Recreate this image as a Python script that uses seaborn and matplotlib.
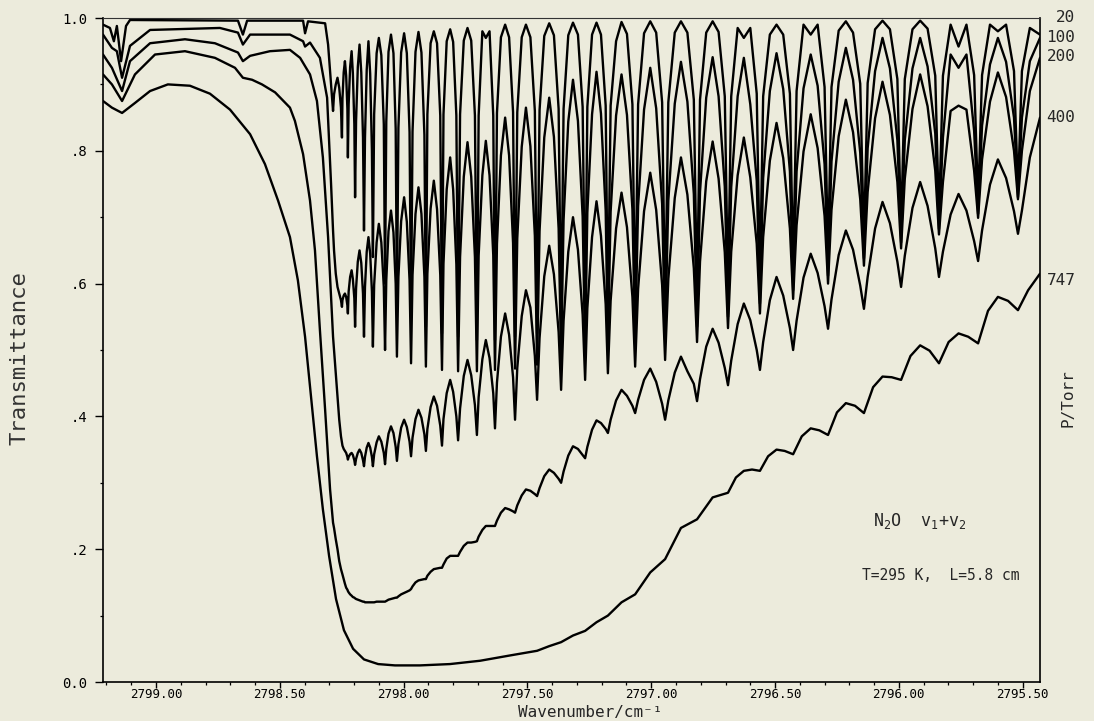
import pandas as pd
import matplotlib
matplotlib.use("Agg")
import matplotlib.pyplot as plt
import matplotlib.transforms as mtransforms
from matplotlib.ticker import MultipleLocator
import seaborn as sns

sns.set_theme(style="ticks", context="paper")
plt.rcParams["font.family"] = ["DejaVu Sans Mono", "DejaVu Sans"]
plt.rcParams["mathtext.default"] = "regular"

# -----------------------------
# Data
# -----------------------------
pressures = [20, 100, 200, 400, 747]

# smooth part left of the Q-branch head (wavenumber, transmittance)
lead_20 = [(2799.214, 0.99), (2799.186, 0.985), (2799.170, 0.965), (2799.158, 0.988),
           (2799.141, 0.935), (2799.121, 0.988), (2799.105, 0.997), (2798.669, 0.996),
           (2798.649, 0.975), (2798.632, 0.996), (2798.406, 0.996), (2798.398, 0.977),
           (2798.386, 0.995), (2798.317, 0.992), (2798.305, 0.96)]
lead_100 = [(2799.214, 0.975), (2799.178, 0.955), (2799.158, 0.95), (2799.137, 0.91),
            (2799.105, 0.958), (2799.024, 0.982), (2798.742, 0.985), (2798.669, 0.978),
            (2798.649, 0.96), (2798.620, 0.975), (2798.540, 0.975), (2798.459, 0.975),
            (2798.406, 0.965), (2798.398, 0.957), (2798.378, 0.963), (2798.338, 0.94),
            (2798.309, 0.88), (2798.293, 0.75)]
lead_200 = [(2799.214, 0.945), (2799.178, 0.925), (2799.137, 0.89), (2799.105, 0.935),
            (2799.024, 0.962), (2798.883, 0.968), (2798.762, 0.962), (2798.669, 0.948),
            (2798.649, 0.935), (2798.620, 0.943), (2798.540, 0.95), (2798.459, 0.952),
            (2798.418, 0.94), (2798.378, 0.915), (2798.350, 0.875), (2798.326, 0.79),
            (2798.305, 0.67)]
lead_400 = [(2799.214, 0.915), (2799.178, 0.9), (2799.137, 0.875), (2799.085, 0.915),
            (2799.004, 0.945), (2798.883, 0.95), (2798.762, 0.94), (2798.681, 0.925),
            (2798.649, 0.91), (2798.612, 0.907), (2798.572, 0.9), (2798.519, 0.888),
            (2798.459, 0.865), (2798.439, 0.845), (2798.406, 0.795), (2798.378, 0.725),
            (2798.358, 0.65), (2798.338, 0.53), (2798.317, 0.41), (2798.297, 0.29)]

# Q-branch lines, cm-1: line centre, then 10/30/50/70/90 % of the way to the next line
osc_wn = [
    (2798.285, 2798.281, 2798.274, 2798.267, 2798.260, 2798.253),
    (2798.249, 2798.247, 2798.242, 2798.237, 2798.232, 2798.227),
    (2798.225, 2798.222, 2798.216, 2798.210, 2798.205, 2798.199),
    (2798.196, 2798.192, 2798.185, 2798.178, 2798.171, 2798.164),
    (2798.160, 2798.156, 2798.149, 2798.142, 2798.135, 2798.128),
    (2798.124, 2798.119, 2798.109, 2798.100, 2798.090, 2798.080),
    (2798.075, 2798.070, 2798.061, 2798.051, 2798.041, 2798.032),
    (2798.027, 2798.021, 2798.010, 2797.998, 2797.987, 2797.976),
    (2797.970, 2797.964, 2797.952, 2797.940, 2797.928, 2797.916),
    (2797.910, 2797.904, 2797.891, 2797.878, 2797.865, 2797.852),
    (2797.845, 2797.839, 2797.826, 2797.812, 2797.800, 2797.787),
    (2797.780, 2797.772, 2797.757, 2797.742, 2797.727, 2797.712),
    (2797.704, 2797.697, 2797.682, 2797.668, 2797.653, 2797.638),
    (2797.631, 2797.623, 2797.607, 2797.590, 2797.574, 2797.558),
    (2797.550, 2797.541, 2797.523, 2797.506, 2797.488, 2797.470),
    (2797.461, 2797.451, 2797.432, 2797.412, 2797.393, 2797.374),
    (2797.364, 2797.354, 2797.335, 2797.316, 2797.296, 2797.277),
    (2797.267, 2797.258, 2797.239, 2797.221, 2797.203, 2797.184),
    (2797.175, 2797.164, 2797.142, 2797.120, 2797.098, 2797.076),
    (2797.065, 2797.053, 2797.029, 2797.004, 2796.980, 2796.956),
    (2796.944, 2796.931, 2796.905, 2796.880, 2796.854, 2796.828),
    (2796.815, 2796.803, 2796.778, 2796.752, 2796.728, 2796.703),
    (2796.690, 2796.677, 2796.651, 2796.626, 2796.600, 2796.574),
    (2796.561, 2796.548, 2796.521, 2796.494, 2796.467, 2796.440),
    (2796.427, 2796.413, 2796.385, 2796.356, 2796.328, 2796.300),
    (2796.286, 2796.272, 2796.243, 2796.214, 2796.185, 2796.156),
    (2796.141, 2796.126, 2796.096, 2796.066, 2796.036, 2796.006),
    (2795.991, 2795.976, 2795.945, 2795.914, 2795.884, 2795.853),
    (2795.838, 2795.822, 2795.791, 2795.759, 2795.727, 2795.696),
    (2795.680, 2795.664, 2795.632, 2795.600, 2795.567, 2795.535),
]
osc_wn_end = [2795.519, 2795.503, 2795.471, 2795.430]

# transmittance at those positions: trough, rising side, rising side, peak, falling, falling
osc_20 = [
    (0.86, 0.885, 0.90, 0.91, 0.895, 0.865), (0.82, 0.878, 0.918, 0.935, 0.913, 0.863),
    (0.79, 0.87, 0.926, 0.95, 0.917, 0.84), (0.73, 0.845, 0.926, 0.96, 0.918, 0.82),
    (0.68, 0.82, 0.922, 0.965, 0.916, 0.80), (0.64, 0.855, 0.947, 0.97, 0.944, 0.84),
    (0.60, 0.844, 0.949, 0.975, 0.947, 0.833), (0.57, 0.835, 0.948, 0.977, 0.947, 0.828),
    (0.55, 0.829, 0.949, 0.979, 0.948, 0.824), (0.535, 0.855, 0.962, 0.98, 0.962, 0.853),
    (0.525, 0.855, 0.965, 0.983, 0.964, 0.853), (0.52, 0.855, 0.966, 0.985, 0.966, 0.853),
    (0.515, 0.853, 0.98, 0.97, 0.98, 0.853), (0.515, 0.857, 0.971, 0.99, 0.971, 0.858),
    (0.52, 0.858, 0.971, 0.99, 0.971, 0.86), (0.525, 0.861, 0.973, 0.992, 0.974, 0.863),
    (0.53, 0.863, 0.974, 0.993, 0.975, 0.866), (0.54, 0.866, 0.975, 0.993, 0.975, 0.868),
    (0.545, 0.868, 0.965, 0.994, 0.976, 0.87), (0.55, 0.87, 0.977, 0.995, 0.978, 0.873),
    (0.56, 0.873, 0.978, 0.995, 0.978, 0.877), (0.575, 0.877, 0.978, 0.995, 0.979, 0.882),
    (0.59, 0.882, 0.985, 0.97, 0.985, 0.886), (0.605, 0.882, 0.975, 0.99, 0.975, 0.886),
    (0.62, 0.89, 0.99, 0.975, 0.99, 0.896), (0.64, 0.896, 0.981, 0.995, 0.978, 0.901),
    (0.66, 0.902, 0.983, 0.996, 0.983, 0.908), (0.68, 0.908, 0.983, 0.996, 0.984, 0.913),
    (0.70, 0.913, 0.99, 0.957, 0.99, 0.914), (0.72, 0.914, 0.99, 0.98, 0.99, 0.92),
]
osc_20_end = [0.74, 0.92, 0.985, 0.975]

osc_100 = [
    (0.68, 0.65, 0.615, 0.595, 0.585, 0.575), (0.565, 0.575, 0.582, 0.585, 0.58, 0.567),
    (0.555, 0.588, 0.61, 0.62, 0.607, 0.578), (0.535, 0.593, 0.633, 0.65, 0.631, 0.585),
    (0.52, 0.595, 0.648, 0.67, 0.645, 0.588), (0.505, 0.598, 0.662, 0.69, 0.662, 0.595),
    (0.50, 0.605, 0.679, 0.71, 0.677, 0.60), (0.49, 0.61, 0.694, 0.73, 0.693, 0.605),
    (0.48, 0.613, 0.705, 0.745, 0.705, 0.61), (0.475, 0.615, 0.713, 0.755, 0.712, 0.613),
    (0.47, 0.63, 0.742, 0.79, 0.742, 0.629), (0.468, 0.64, 0.761, 0.813, 0.761, 0.64),
    (0.468, 0.642, 0.763, 0.815, 0.763, 0.643), (0.47, 0.66, 0.793, 0.85, 0.793, 0.661),
    (0.472, 0.668, 0.806, 0.865, 0.807, 0.672), (0.478, 0.679, 0.82, 0.88, 0.821, 0.683),
    (0.485, 0.696, 0.844, 0.907, 0.845, 0.701), (0.495, 0.707, 0.855, 0.919, 0.856, 0.71),
    (0.50, 0.708, 0.853, 0.915, 0.854, 0.712), (0.508, 0.717, 0.862, 0.925, 0.864, 0.72),
    (0.515, 0.725, 0.871, 0.934, 0.874, 0.735), (0.535, 0.738, 0.88, 0.941, 0.882, 0.746),
    (0.55, 0.745, 0.882, 0.94, 0.87, 0.755), (0.57, 0.759, 0.89, 0.947, 0.893, 0.769),
    (0.59, 0.769, 0.894, 0.945, 0.898, 0.78), (0.612, 0.784, 0.904, 0.955, 0.907, 0.797),
    (0.638, 0.804, 0.92, 0.97, 0.924, 0.816), (0.662, 0.816, 0.924, 0.97, 0.927, 0.826),
    (0.682, 0.82, 0.945, 0.925, 0.945, 0.83), (0.705, 0.838, 0.93, 0.97, 0.934, 0.85),
]
osc_100_end = [0.73, 0.85, 0.935, 0.97]

osc_200 = [
    (0.52, 0.50, 0.465, 0.43, 0.395, 0.37), (0.36, 0.356, 0.351, 0.348, 0.345, 0.339),
    (0.335, 0.339, 0.343, 0.345, 0.342, 0.334), (0.327, 0.336, 0.345, 0.35, 0.345, 0.334),
    (0.325, 0.339, 0.353, 0.36, 0.353, 0.339), (0.325, 0.343, 0.361, 0.37, 0.362, 0.345),
    (0.328, 0.351, 0.374, 0.385, 0.375, 0.354), (0.333, 0.358, 0.383, 0.395, 0.384, 0.362),
    (0.34, 0.368, 0.396, 0.41, 0.398, 0.373), (0.348, 0.381, 0.414, 0.43, 0.416, 0.386),
    (0.356, 0.396, 0.435, 0.455, 0.437, 0.40), (0.364, 0.412, 0.461, 0.485, 0.462, 0.417),
    (0.372, 0.429, 0.486, 0.515, 0.488, 0.435), (0.382, 0.451, 0.52, 0.555, 0.523, 0.459),
    (0.395, 0.473, 0.551, 0.59, 0.564, 0.491), (0.425, 0.518, 0.611, 0.657, 0.614, 0.527),
    (0.44, 0.544, 0.648, 0.70, 0.651, 0.553), (0.455, 0.563, 0.67, 0.724, 0.672, 0.569),
    (0.465, 0.574, 0.683, 0.737, 0.685, 0.58), (0.475, 0.592, 0.709, 0.767, 0.711, 0.598),
    (0.485, 0.607, 0.729, 0.79, 0.734, 0.623), (0.512, 0.633, 0.754, 0.814, 0.758, 0.647),
    (0.533, 0.648, 0.763, 0.82, 0.76, 0.66), (0.555, 0.67, 0.785, 0.842, 0.789, 0.683),
    (0.577, 0.688, 0.799, 0.855, 0.804, 0.702), (0.60, 0.711, 0.822, 0.877, 0.828, 0.727),
    (0.627, 0.738, 0.849, 0.904, 0.854, 0.753), (0.653, 0.758, 0.863, 0.915, 0.867, 0.77),
    (0.674, 0.753, 0.86, 0.868, 0.862, 0.77), (0.699, 0.787, 0.874, 0.918, 0.881, 0.80),
]
osc_200_end = [0.727, 0.80, 0.89, 0.94]

osc_400 = [
    (0.24, 0.232, 0.215, 0.20, 0.182, 0.17), (0.165, 0.162, 0.155, 0.148, 0.142, 0.139),
    (0.137, 0.135, 0.132, 0.13, 0.128, 0.127), (0.126, 0.125, 0.124, 0.123, 0.122, 0.121),
    (0.121, 0.12, 0.12, 0.12, 0.12, 0.12), (0.12, 0.12, 0.121, 0.121, 0.121, 0.121),
    (0.121, 0.122, 0.124, 0.125, 0.126, 0.127), (0.127, 0.129, 0.132, 0.134, 0.136, 0.138),
    (0.14, 0.144, 0.15, 0.153, 0.154, 0.155), (0.155, 0.16, 0.166, 0.17, 0.171, 0.172),
    (0.172, 0.177, 0.186, 0.19, 0.19, 0.19), (0.19, 0.196, 0.205, 0.21, 0.21, 0.211),
    (0.212, 0.219, 0.229, 0.235, 0.235, 0.235), (0.235, 0.243, 0.255, 0.262, 0.26, 0.257),
    (0.255, 0.266, 0.281, 0.29, 0.288, 0.283), (0.28, 0.292, 0.31, 0.32, 0.315, 0.306),
    (0.30, 0.317, 0.341, 0.355, 0.351, 0.342), (0.337, 0.354, 0.38, 0.394, 0.39, 0.381),
    (0.375, 0.395, 0.424, 0.44, 0.431, 0.416), (0.405, 0.425, 0.455, 0.472, 0.452, 0.419),
    (0.395, 0.424, 0.466, 0.49, 0.468, 0.449), (0.423, 0.456, 0.505, 0.532, 0.511, 0.473),
    (0.447, 0.484, 0.539, 0.57, 0.545, 0.50), (0.47, 0.512, 0.575, 0.61, 0.582, 0.533),
    (0.50, 0.544, 0.609, 0.645, 0.616, 0.566), (0.532, 0.576, 0.643, 0.68, 0.651, 0.597),
    (0.562, 0.61, 0.683, 0.723, 0.691, 0.633), (0.595, 0.642, 0.714, 0.753, 0.717, 0.653),
    (0.61, 0.648, 0.704, 0.735, 0.71, 0.664), (0.634, 0.68, 0.749, 0.787, 0.759, 0.709),
]
osc_400_end = [0.675, 0.71, 0.79, 0.85]

# 747 Torr: fully pressure-broadened, own sampling
wn_747 = [2799.214, 2799.178, 2799.137, 2799.085, 2799.024, 2798.952, 2798.863, 2798.782,
          2798.701, 2798.620, 2798.560, 2798.507, 2798.459, 2798.427, 2798.398, 2798.374,
          2798.350, 2798.326, 2798.301, 2798.273, 2798.241, 2798.204, 2798.160, 2798.103,
          2798.035, 2797.934, 2797.813, 2797.691, 2797.570, 2797.461, 2797.412, 2797.364,
          2797.316, 2797.267, 2797.221, 2797.175, 2797.120, 2797.065, 2797.004, 2796.944,
          2796.880, 2796.815, 2796.752, 2796.690, 2796.658, 2796.626, 2796.593, 2796.561,
          2796.528, 2796.494, 2796.461, 2796.427, 2796.392, 2796.356, 2796.321, 2796.286,
          2796.250, 2796.214, 2796.177, 2796.141, 2796.104, 2796.066, 2796.029, 2795.991,
          2795.953, 2795.914, 2795.876, 2795.838, 2795.799, 2795.759, 2795.720, 2795.680,
          2795.640, 2795.600, 2795.559, 2795.519, 2795.478, 2795.430]
t_747 = [0.875, 0.865, 0.857, 0.872, 0.89, 0.9, 0.898, 0.886,
         0.862, 0.825, 0.78, 0.725, 0.67, 0.605, 0.52, 0.43,
         0.34, 0.26, 0.19, 0.125, 0.078, 0.05, 0.034, 0.027,
         0.025, 0.025, 0.027, 0.032, 0.04, 0.047, 0.054, 0.06,
         0.07, 0.077, 0.09, 0.1, 0.12, 0.132, 0.165, 0.185,
         0.232, 0.245, 0.278, 0.285, 0.308, 0.318, 0.32, 0.318,
         0.34, 0.35, 0.348, 0.343, 0.37, 0.382, 0.379, 0.372,
         0.406, 0.42, 0.416, 0.405, 0.444, 0.46, 0.459, 0.455,
         0.491, 0.507, 0.499, 0.48, 0.512, 0.525, 0.52, 0.51,
         0.559, 0.58, 0.574, 0.56, 0.59, 0.615]

# right-hand pressure labels (transmittance where each trace ends)
label_pos = {"20": 1.0, "100": 0.97, "200": 0.942, "400": 0.85, "747": 0.604}


def assemble(lead, osc, osc_end):
    wn = [p[0] for p in lead]
    tr = [p[1] for p in lead]
    for pos, val in zip(osc_wn, osc):
        wn.extend(pos)
        tr.extend(val)
    wn.extend(osc_wn_end)
    tr.extend(osc_end)
    return wn, tr


frames = []
for p, lead, osc, end in [(20, lead_20, osc_20, osc_20_end),
                          (100, lead_100, osc_100, osc_100_end),
                          (200, lead_200, osc_200, osc_200_end),
                          (400, lead_400, osc_400, osc_400_end)]:
    wn, tr = assemble(lead, osc, end)
    frames.append(pd.DataFrame({"wavenumber": wn, "transmittance": tr, "pressure": p}))
frames.append(pd.DataFrame({"wavenumber": wn_747, "transmittance": t_747, "pressure": 747}))
df = pd.concat(frames, ignore_index=True)

# -----------------------------
# Figure
# -----------------------------
bg = "#ecebdc"
fig = plt.figure(figsize=(10.94, 7.21), dpi=100, facecolor=bg)
# axes frame: x 103..1040 px, y 18..682 px
ax = fig.add_axes([103 / 1094, 1 - 682 / 721, 937 / 1094, 664 / 721])
ax.set_facecolor(bg)

sns.lineplot(data=df, x="wavenumber", y="transmittance", units="pressure",
             estimator=None, sort=False, color="black", linewidth=1.7,
             legend=False, ax=ax)
for ln in ax.get_lines():
    ln.set_solid_joinstyle("round")

ax.set_xlim(2799.214, 2795.430)
ax.set_ylim(0, 1.0)

xt = [2799.0, 2798.5, 2798.0, 2797.5, 2797.0, 2796.5, 2796.0, 2795.5]
ax.set_xticks(xt)
ax.set_xticklabels([f"{v:.2f}" for v in xt], fontsize=9)
ax.xaxis.set_minor_locator(MultipleLocator(0.1))
ax.set_yticks([0, 0.2, 0.4, 0.6, 0.8, 1.0])
ax.set_yticklabels(["0.0", ".2", ".4", ".6", ".8", "1.0"], fontsize=10)
ax.yaxis.set_minor_locator(MultipleLocator(0.1))
ax.tick_params(which="major", direction="out", length=5, width=1.0, colors="black")
ax.tick_params(which="minor", direction="out", length=2.5, width=0.9, colors="black")
ax.tick_params(axis="x", which="major", length=4, pad=0.5)
ax.tick_params(axis="y", which="major", length=6, pad=5)
ax.set_xlabel("")
ax.set_ylabel("")
for side in ["left", "bottom", "right"]:
    ax.spines[side].set_linewidth(1.2)
    ax.spines[side].set_color("black")
ax.spines["top"].set_linewidth(0.8)
ax.spines["top"].set_color("#333333")

fig.text(590 / 1094, 0.5 / 721, "Wavenumber/cm\u207b\u00b9", ha="center", va="bottom",
         fontsize=11.5)
fig.text(20 / 1094, 1 - 358 / 721, "Transmittance", ha="center", va="center",
         rotation=90, fontsize=16, color="#333333")

ax.text(2795.914, 0.243, "N$_2$O  v$_1$+v$_2$", ha="center", va="center", fontsize=12)
ax.text(2795.830, 0.16, "T=295 K,  L=5.8 cm", ha="center", va="center", fontsize=10.5)

trans = mtransforms.blended_transform_factory(fig.transFigure, ax.transData)
for lab, yv in label_pos.items():
    ax.text(0.983, yv, lab, ha="right", va="center", fontsize=11.5,
            transform=trans, clip_on=False)
ax.text(0.976, 0.427, "P/Torr", ha="center", va="center", rotation=90,
        fontsize=11.5, transform=trans, clip_on=False)

fig.savefig("out.png", dpi=100, facecolor=bg)
